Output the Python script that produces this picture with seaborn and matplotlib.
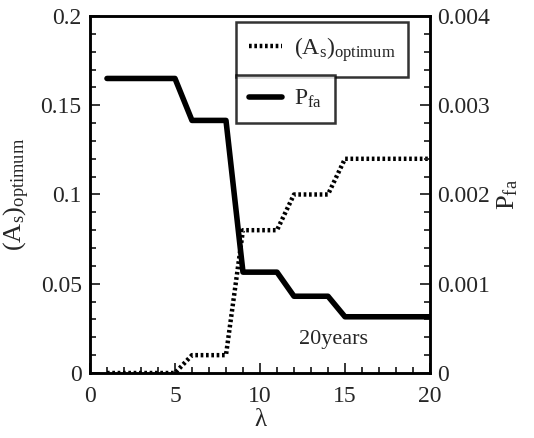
import matplotlib
matplotlib.use("Agg")
import matplotlib.pyplot as plt
import seaborn as sns
import pandas as pd
from matplotlib.ticker import MultipleLocator, FuncFormatter

lam = [1, 2, 3, 4, 5, 6, 7, 8, 9, 10, 11, 12, 13, 14, 15, 16, 17, 18, 19, 20]
as_opt = [0, 0, 0, 0, 0, 0.01, 0.01, 0.01, 0.08, 0.08, 0.08, 0.10, 0.10, 0.10,
          0.12, 0.12, 0.12, 0.12, 0.12, 0.12]
pfa = [0.0033, 0.0033, 0.0033, 0.0033, 0.0033, 0.00283, 0.00283, 0.00283,
       0.00113, 0.00113, 0.00113, 0.00086, 0.00086, 0.00086,
       0.00063, 0.00063, 0.00063, 0.00063, 0.00063, 0.00063]

df = pd.DataFrame({"lam": lam, "as": as_opt, "pfa": pfa})

sns.set_style("ticks")
plt.rcParams['font.family'] = ['Liberation Serif', 'DejaVu Serif']
plt.rcParams['mathtext.fontset'] = 'custom'
plt.rcParams['mathtext.rm'] = 'Liberation Serif'
plt.rcParams['mathtext.it'] = 'Liberation Serif'

fig = plt.figure(figsize=(5.34, 4.38), dpi=100)
ax = fig.add_axes([0.1685, 0.1484, 0.6367, 0.8151])
ax2 = ax.twinx()

sns.lineplot(data=df, x="lam", y="as", ax=ax, color="black", lw=3.2,
             linestyle=(0, (0.6, 0.6)), label=r"$\mathrm{(A_s)_{optimum}}$")
sns.lineplot(data=df, x="lam", y="pfa", ax=ax2, color="black", lw=4,
             label=r"$\mathrm{P_{fa}}$")

ax.set_xlim(0, 20)
ax.set_ylim(0, 0.2)
ax2.set_ylim(0, 0.004)

ax.xaxis.set_major_locator(MultipleLocator(5))
ax.xaxis.set_minor_locator(MultipleLocator(1))
ax.yaxis.set_major_locator(MultipleLocator(0.05))
ax.yaxis.set_minor_locator(MultipleLocator(0.01))
ax2.yaxis.set_major_locator(MultipleLocator(0.001))
ax2.yaxis.set_minor_locator(MultipleLocator(0.0002))

fmt = FuncFormatter(lambda v, p: f"{v:g}")
ax.xaxis.set_major_formatter(fmt)
ax.yaxis.set_major_formatter(fmt)
ax2.yaxis.set_major_formatter(fmt)

for a in (ax, ax2):
    a.tick_params(which="both", direction="in", labelsize=17, width=1.3)
    a.tick_params(which="major", length=7)
    a.tick_params(which="minor", length=4)
    for s in a.spines.values():
        s.set_linewidth(1.8)
        s.set_color("black")
ax.tick_params(axis="y", which="both", right=False, pad=6)
ax.tick_params(axis="x", which="both", top=False, pad=9)
ax2.tick_params(axis="y", which="both", pad=5)

ax.set_xlabel("λ", fontsize=18, labelpad=2)
ax.set_ylabel(r"$\mathrm{(A_s)_{optimum}}$", fontsize=19, labelpad=6)
ax2.set_ylabel(r"$\mathrm{P_{fa}}$", fontsize=19, labelpad=4)

common = dict(loc="upper left", fontsize=17, frameon=True, fancybox=False,
              edgecolor="black", handlelength=1.4, handletextpad=0.5,
              borderpad=0.55, borderaxespad=0)
l1 = ax.legend(bbox_to_anchor=(0.429, 0.983), **common)
l1.get_frame().set_linewidth(1.8)
l2 = ax2.legend(bbox_to_anchor=(0.429, 0.835), **common)
l2.get_frame().set_linewidth(1.8)

ax.text(14.35, 0.0185, "20years", fontsize=16, ha="center", va="center")

fig.savefig("out.png", dpi=100)
